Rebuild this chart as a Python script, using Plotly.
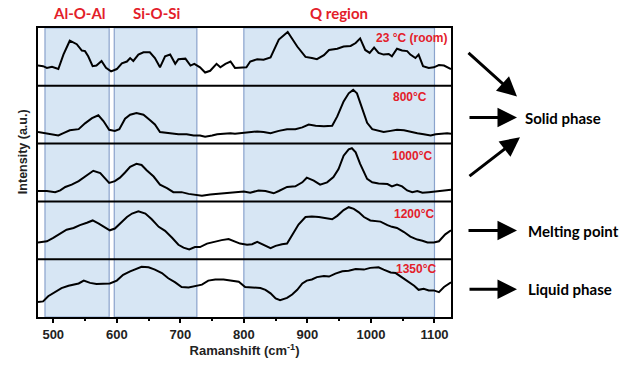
import plotly.graph_objects as go

# ---------------- data ----------------
temps = ["23 °C (room)", "800°C", "1000°C", "1200°C", "1350°C"]

shift_23 = [476,484,490,498,508,516,526,537,545,550,555,562,568,576,583,591,600,608,616,621,
            626,634,642,652,660,668,676,684,692,697,708,716,722,731,739,747,757,763,771,779,
            786,794,804,810,821,831,842,855,869,884,897,907,915,926,934,947,957,968,976,983,
            991,998,1005,1012,1020,1028,1033,1041,1049,1057,1062,1070,1075,1082,1091,1099,1107,1115,1126]
int_23 = [0.35,0.34,0.31,0.33,0.29,0.54,0.78,0.72,0.61,0.60,0.51,0.34,0.35,0.43,0.31,0.25,0.29,0.39,0.42,0.48,
          0.43,0.54,0.58,0.58,0.48,0.32,0.51,0.54,0.38,0.46,0.47,0.35,0.38,0.32,0.23,0.26,0.38,0.32,0.38,0.42,
          0.31,0.32,0.32,0.42,0.46,0.45,0.49,0.80,0.93,0.68,0.50,0.48,0.46,0.53,0.62,0.64,0.68,0.69,0.74,0.82,
          0.62,0.57,0.66,0.57,0.54,0.55,0.51,0.64,0.61,0.60,0.54,0.48,0.54,0.34,0.31,0.32,0.36,0.35,0.29]

shift_800 = [476,487,498,508,516,526,540,550,561,571,579,588,597,604,613,621,631,642,652,660,
             668,679,687,697,710,721,731,739,750,758,768,779,786,797,810,821,831,842,855,868,
             881,892,902,913,926,939,947,957,965,972,978,986,994,1002,1012,1020,1031,1041,1052,1062,
             1073,1083,1094,1102,1112,1120,1126]
int_800 = [0.20,0.18,0.17,0.14,0.18,0.23,0.25,0.35,0.44,0.49,0.39,0.24,0.22,0.25,0.43,0.50,0.53,0.50,0.41,0.33,
           0.20,0.18,0.17,0.16,0.16,0.14,0.14,0.12,0.14,0.16,0.17,0.18,0.17,0.18,0.20,0.21,0.20,0.18,0.22,0.25,
           0.25,0.28,0.33,0.31,0.30,0.31,0.47,0.73,0.87,0.93,0.87,0.62,0.36,0.25,0.22,0.20,0.22,0.24,0.23,0.20,
           0.18,0.16,0.14,0.16,0.17,0.18,0.17]

shift_1000 = [476,490,503,511,519,529,540,550,563,574,582,588,597,605,613,621,631,639,647,658,
              668,679,689,702,713,723,734,747,760,773,786,800,810,823,834,847,855,868,881,892,
              899,910,920,931,941,949,957,965,970,976,983,994,1002,1012,1026,1033,1041,1049,1057,1065,
              1073,1081,1091,1102,1112,1120,1126]
int_1000 = [0.18,0.18,0.16,0.19,0.25,0.29,0.35,0.43,0.53,0.49,0.39,0.32,0.35,0.41,0.50,0.60,0.65,0.63,0.54,0.43,
            0.29,0.23,0.16,0.16,0.13,0.12,0.10,0.12,0.13,0.14,0.15,0.17,0.15,0.19,0.18,0.14,0.18,0.25,0.26,0.33,
            0.41,0.36,0.29,0.33,0.42,0.56,0.79,0.90,0.92,0.85,0.65,0.39,0.33,0.31,0.30,0.26,0.29,0.26,0.19,0.16,
            0.18,0.15,0.16,0.17,0.18,0.19,0.20]

shift_1200 = [476,490,500,511,521,532,542,553,562,571,582,589,597,605,616,624,634,645,655,666,
              676,687,697,705,714,723,731,742,755,765,776,784,794,805,813,821,831,842,850,860,
              868,876,886,897,907,918,928,939,947,957,965,973,981,989,999,1007,1015,1026,1033,1041,
              1052,1062,1073,1081,1089,1099,1107,1117,1126]
int_1200 = [0.29,0.31,0.37,0.45,0.51,0.54,0.59,0.63,0.67,0.62,0.54,0.50,0.53,0.61,0.73,0.79,0.83,0.79,0.69,0.56,
            0.49,0.37,0.25,0.20,0.17,0.21,0.21,0.27,0.31,0.33,0.35,0.32,0.27,0.25,0.26,0.30,0.25,0.19,0.23,0.26,
            0.27,0.42,0.60,0.73,0.74,0.73,0.71,0.69,0.75,0.85,0.90,0.87,0.81,0.73,0.67,0.66,0.65,0.59,0.56,0.54,
            0.47,0.39,0.34,0.32,0.29,0.29,0.31,0.43,0.50]

shift_1350 = [476,484,492,503,513,524,532,540,548,558,568,579,589,600,610,621,631,639,650,660,
              671,681,692,702,713,723,734,744,755,768,781,792,802,815,826,834,842,850,857,868,
              876,884,892,899,907,915,926,934,944,955,965,976,989,999,1012,1020,1031,1039,1047,1057,
              1068,1075,1083,1091,1099,1107,1115,1126]
int_1350 = [0.26,0.27,0.36,0.43,0.50,0.54,0.56,0.58,0.63,0.59,0.57,0.58,0.58,0.63,0.73,0.79,0.83,0.87,0.86,0.82,
            0.76,0.67,0.60,0.52,0.51,0.53,0.56,0.63,0.65,0.65,0.63,0.61,0.52,0.51,0.50,0.47,0.41,0.32,0.29,0.33,
            0.39,0.47,0.58,0.63,0.65,0.69,0.71,0.70,0.75,0.79,0.80,0.83,0.82,0.85,0.86,0.82,0.77,0.76,0.70,0.63,
            0.54,0.47,0.49,0.46,0.46,0.43,0.52,0.60]

shifts = [shift_23, shift_800, shift_1000, shift_1200, shift_1350]
intensities = [int_23, int_800, int_1000, int_1200, int_1350]

region_names = ["Al-O-Al", "Si-O-Si", "Q region"]
region_bounds = [(487, 588), (596, 726), (800, 1100)]
region_label_x = [542, 663, 950]

phase_labels = ["Solid phase", "Melting point", "Liquid phase"]
x_ticks = [500, 600, 700, 800, 900, 1000, 1100]

# ---------------- figure ----------------
RED = "#e3202a"
L, R, T, B = 38, 179, 28, 48
W, H = 630, 367
PW, PH = W - L - R, H - T - B

def px(xp):
    return (xp - L) / PW

def py(yp):
    return (H - B - yp) / PH

fig = go.Figure()
n = len(temps)
shapes = []
for (x0, x1) in region_bounds:
    shapes.append(dict(type="rect", xref="x", yref="paper", x0=x0, x1=x1, y0=0, y1=1,
                       fillcolor="#d7e6f4", line=dict(color="#8aa3cc", width=1.2), layer="below"))
for k in range(1, n):
    shapes.append(dict(type="line", xref="paper", yref="y", x0=0, x1=1, y0=k, y1=k,
                       line=dict(color="black", width=2)))

for i in range(n):
    base = n - 1 - i
    fig.add_trace(go.Scatter(x=shifts[i], y=[base + v for v in intensities[i]], mode="lines",
                             line=dict(color="black", width=2), showlegend=False))

annotations = []
label_y = [0.83, 0.80, 0.79, 0.785, 0.83]
label_x = [1123, 1091, 1100, 1103, 1105]
for i in range(n):
    base = n - 1 - i
    annotations.append(dict(x=label_x[i], y=base + label_y[i], xref="x", yref="y", text="<b>%s</b>" % temps[i],
                            showarrow=False, xanchor="right", yanchor="middle",
                            font=dict(family="Liberation Sans, Arial", size=12, color=RED)))

for name, xc in zip(region_names, region_label_x):
    annotations.append(dict(x=xc, y=py(12.5), xref="x", yref="paper", text="<b>%s</b>" % name,
                            showarrow=False, xanchor="center", yanchor="middle",
                            font=dict(family="Lato, Open Sans", size=15, color=RED)))

# y-axis title as rotated annotation (sits above the plot centre in the reference)
annotations.append(dict(x=px(23), y=py(153), xref="paper", yref="paper",
                        text="<b>Intensity (a.u.)</b>", textangle=-90, showarrow=False,
                        xanchor="center", yanchor="middle",
                        font=dict(family="Liberation Sans, Arial", size=12.5, color="#222")))

# arrows (tip, tail in pixels)
arrows = [((517, 97), (467, 52)), ((517, 118), (468, 118)), ((520, 138), (468, 178)),
          ((517, 232), (467, 232)), ((517, 291), (468, 291))]
for (tx, ty), (sx, sy) in arrows:
    annotations.append(dict(x=px(tx), y=py(ty), xref="paper", yref="paper",
                            ax=sx - tx, ay=sy - ty, axref="pixel", ayref="pixel",
                            showarrow=True, arrowhead=2, arrowsize=1.3, arrowwidth=3,
                            arrowcolor="black", text=""))

phase_pos = [(523, 119), (526, 232), (526, 291)]
for txt, (x0, y0) in zip(phase_labels, phase_pos):
    annotations.append(dict(x=px(x0), y=py(y0), xref="paper", yref="paper", text="<b>%s</b>" % txt,
                            showarrow=False, xanchor="left", yanchor="middle",
                            font=dict(family="Lato, Open Sans", size=15, color="black")))

fig.update_layout(
    width=W, height=H, margin=dict(l=L, r=R, t=T, b=B),
    paper_bgcolor="white", plot_bgcolor="white",
    shapes=shapes, annotations=annotations,
    xaxis=dict(range=[476, 1126], tickvals=x_ticks, ticks="outside", ticklen=4, tickwidth=1.5,
               tickcolor="black", showline=True, linecolor="black", linewidth=2, mirror=True,
               showgrid=False, zeroline=False,
               minor=dict(tickvals=[550, 650, 750, 850, 950, 1050], ticks="outside", ticklen=2,
                          tickcolor="black"),
               tickfont=dict(family="Liberation Sans, Arial", size=13, color="#222", weight="bold"),
               title=dict(text="<b>Ramanshift (cm<sup>-1</sup>)</b>", standoff=4,
                          font=dict(family="Liberation Sans, Arial", size=13, color="#222"))),
    yaxis=dict(range=[0, 5], showticklabels=False, ticks="", showline=True, linecolor="black",
               linewidth=2, mirror=True, showgrid=False, zeroline=False),
)

fig.write_html("out.html")
